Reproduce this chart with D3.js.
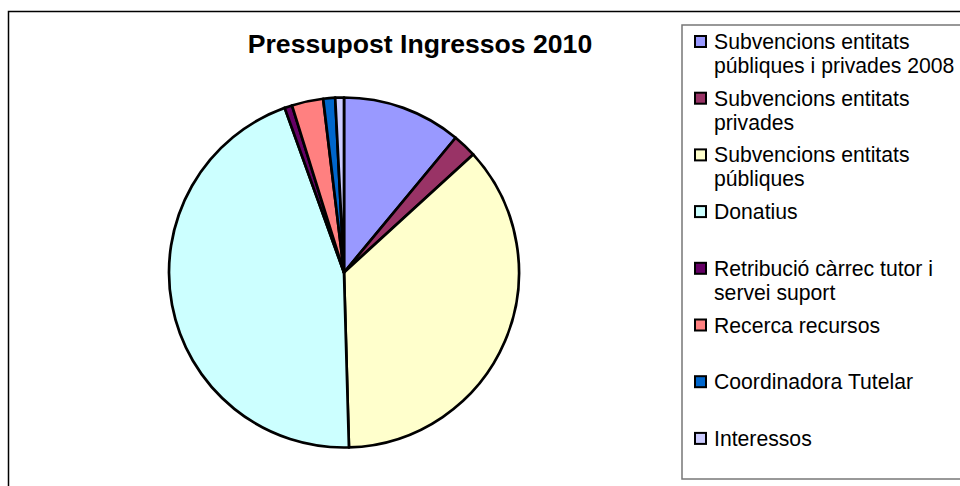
<!DOCTYPE html>
<html>
<head>
<meta charset="utf-8">
<title>Pressupost Ingressos 2010</title>
<script src="https://cdn.jsdelivr.net/npm/d3@7/dist/d3.min.js"></script>
<style>
  body { margin: 0; background: #fff; }
  svg text { font-family: Arial, "Liberation Sans", sans-serif; fill: #000; }
</style>
</head>
<body>
<svg id="chart" width="960" height="486"></svg>
<script>
// categories (legend text, "\n" = line break) and shares (%)
var categories = [
  "Subvencions entitats\npúbliques i privades 2008",
  "Subvencions entitats\nprivades",
  "Subvencions entitats\npúbliques",
  "Donatius",
  "Retribució càrrec tutor i\nservei suport",
  "Recerca recursos",
  "Coordinadora Tutelar",
  "Interessos"
];
var values = [11.0, 2.2, 36.3, 44.9, 0.7, 2.9, 1.1, 0.8];
var colors = ["#9999FF", "#993366", "#FFFFCC", "#CCFFFF", "#660066", "#FF8080", "#0066CC", "#CCCCFF"];

var svg = d3.select("#chart");

// outer chart frame (runs past the right and bottom edges)
svg.append("rect")
    .attr("x", 8.5).attr("y", 11.5)
    .attr("width", 1000).attr("height", 600)
    .attr("fill", "none").attr("stroke", "#000").attr("stroke-width", 1.5);

svg.append("text")
    .attr("x", 420).attr("y", 52.5)
    .attr("text-anchor", "middle")
    .style("font-size", "26.6px")
    .style("font-weight", "bold")
    .text("Pressupost Ingressos 2010");

var cx = 344, cy = 272.5, r = 175;

var arc = d3.arc().innerRadius(0).outerRadius(r);

var data = values.map(function (v, i) { return { v: v, i: i }; });
var pieData = d3.pie().sort(null).value(function (d) { return d.v; })(data);

svg.append("g")
    .attr("transform", "translate(" + cx + "," + cy + ")")
  .selectAll("path")
  .data(pieData)
  .enter().append("path")
    .attr("d", arc)
    .attr("fill", function (d) { return colors[d.data.i]; })
    .attr("stroke", "#000")
    .attr("stroke-width", 2.7)
    .attr("stroke-linejoin", "round");

// legend
svg.append("rect")
    .attr("x", 682).attr("y", 25)
    .attr("width", 400).attr("height", 454)
    .attr("fill", "none").attr("stroke", "#777").attr("stroke-width", 1.5);

var rowY = d3.scaleLinear().domain([0, 1]).range([41.5, 98.2]);

var item = svg.append("g").selectAll("g")
    .data(categories)
    .enter().append("g")
    .attr("transform", function (d, i) { return "translate(0," + rowY(i) + ")"; });

item.append("rect")
    .attr("x", 695).attr("y", -5.5)
    .attr("width", 11).attr("height", 11)
    .attr("fill", function (d, i) { return colors[i]; })
    .attr("stroke", "#000").attr("stroke-width", 2);

item.append("text")
    .style("font-size", "21.2px")
    .each(function (d) {
      var t = d3.select(this);
      d.split("\n").forEach(function (line, k) {
        t.append("tspan")
          .attr("x", 714)
          .attr("y", 7.5 + k * 24)
          .text(line);
      });
    });
</script>
</body>
</html>
